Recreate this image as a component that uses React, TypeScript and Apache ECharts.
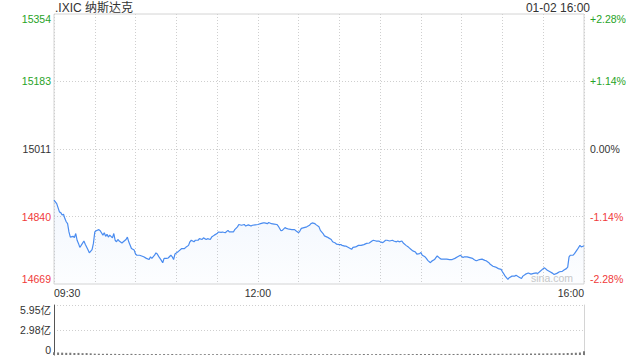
import React, { useEffect, useRef } from "react";
import * as echarts from "echarts";

// ---- data ----
const title = ".IXIC 纳斯达克";
const stamp = "01-02 16:00";
const watermark = "sina.com";
const prevClose = 15011;
const priceTicks = [14669, 14840, 15011, 15183, 15354];
const priceGridValues = [14840, 15011, 15183];
const pctTickLabels = ["-2.28%", "-1.14%", "0.00%", "+1.14%", "+2.28%"];
const timeTickMinutes = [0, 150, 390];
const timeTickLabels = ["09:30", "12:00", "16:00"];
const volumeTicks = [0, 2.98, 5.95];
const volumeTickLabels = ["0", "2.98亿", "5.95亿"];

// minutes after 09:30
const minutes = [
  0, 2, 4, 5, 6, 7, 8, 9, 10, 11, 12, 14, 15, 16, 17, 18, 19, 20, 22, 23, 24, 25, 26, 28, 29,
  30, 31, 33, 34, 36, 37, 38, 39, 40, 41, 43, 44, 45, 46, 47, 48, 50, 51, 53, 54, 55, 57, 59,
  60, 61, 63, 66, 68, 70, 71, 72, 74, 75, 76, 77, 79, 80, 81, 83, 84, 86, 87, 88, 89, 91, 92,
  94, 96, 97, 99, 100, 101, 103, 104, 106, 107, 109, 110, 112, 113, 115, 116, 118, 120, 121,
  123, 124, 126, 128, 129, 132, 133, 135, 136, 138, 140, 141, 143, 145, 146, 148, 150, 152,
  154, 155, 157, 158, 160, 162, 164, 165, 167, 168, 170, 171, 173, 175, 177, 178, 180, 181,
  182, 184, 186, 188, 189, 190, 192, 193, 195, 196, 198, 199, 201, 202, 204, 205, 207, 208,
  210, 211, 212, 214, 215, 217, 219, 220, 222, 224, 226, 228, 230, 232, 234, 235, 237, 239,
  240, 242, 244, 245, 247, 249, 250, 252, 253, 254, 256, 257, 259, 261, 263, 264, 266, 267,
  269, 270, 271, 273, 274, 275, 277, 278, 280, 281, 282, 284, 285, 287, 289, 291, 293, 295,
  297, 299, 301, 302, 304, 306, 308, 309, 310, 311, 313, 315, 317, 318, 320, 321, 323, 325,
  327, 329, 330, 332, 334, 335, 337, 339, 340, 342, 344, 345, 347, 349, 351, 353, 355, 356,
  358, 360, 361, 363, 365, 367, 368, 370, 372, 374, 375, 377, 378, 379, 380, 382, 383, 385,
  387, 388, 390,
];
const prices = [
  14882, 14873, 14852, 14850, 14844, 14846, 14835, 14827, 14822, 14801, 14788, 14790, 14787,
  14797, 14780, 14772, 14762, 14767, 14778, 14770, 14763, 14756, 14748, 14756, 14772, 14801,
  14804, 14807, 14804, 14793, 14799, 14790, 14795, 14788, 14793, 14786, 14797, 14780, 14776,
  14782, 14778, 14773, 14776, 14782, 14788, 14776, 14759, 14755, 14745, 14742, 14742, 14738,
  14734, 14731, 14738, 14734, 14742, 14748, 14745, 14739, 14729, 14723, 14734, 14734, 14735,
  14742, 14738, 14731, 14745, 14750, 14753, 14759, 14759, 14762, 14767, 14776, 14780, 14776,
  14780, 14780, 14784, 14782, 14786, 14782, 14784, 14782, 14788, 14793, 14797, 14801, 14800,
  14801, 14799, 14805, 14801, 14801, 14807, 14814, 14820, 14818, 14820, 14816, 14819, 14816,
  14818, 14819, 14820, 14822, 14824, 14824, 14822, 14825, 14822, 14821, 14820, 14816, 14804,
  14805, 14812, 14810, 14808, 14807, 14807, 14804, 14799, 14804, 14810, 14812, 14814, 14818,
  14822, 14824, 14822, 14819, 14814, 14805, 14797, 14791, 14788, 14786, 14782, 14776, 14773,
  14770, 14769, 14769, 14767, 14765, 14765, 14761, 14757, 14762, 14763, 14767, 14767, 14769,
  14772, 14773, 14778, 14780, 14778, 14778, 14776, 14774, 14780, 14780, 14778, 14780, 14778,
  14776, 14778, 14776, 14778, 14773, 14767, 14762, 14756, 14753, 14750, 14745, 14746, 14749,
  14742, 14738, 14734, 14729, 14723, 14727, 14731, 14736, 14740, 14734, 14732, 14732, 14732,
  14731, 14731, 14734, 14738, 14742, 14736, 14738, 14738, 14736, 14734, 14731, 14729, 14728,
  14731, 14732, 14729, 14728, 14723, 14719, 14714, 14712, 14708, 14706, 14700, 14689, 14681,
  14685, 14689, 14689, 14691, 14687, 14683, 14689, 14694, 14697, 14694, 14696, 14697, 14696,
  14702, 14708, 14710, 14704, 14700, 14696, 14693, 14696, 14700, 14701, 14704, 14708, 14712,
  14738, 14742, 14742, 14746, 14756, 14767, 14763, 14766,
];

// volume in 亿, one bar per 3 minutes
const volumeStepMinutes = 3;
const volumes = [
  0.34, 0.3, 0.28, 0.26, 0.27, 0.24, 0.25, 0.22, 0.23, 0.2,
  0.16, 0.15, 0.14, 0.15, 0.13, 0.14, 0.12, 0.13, 0.12, 0.14,
  0.12, 0.11, 0.12, 0.1, 0.11, 0.12, 0.1, 0.11, 0.1, 0.12,
  0.1, 0.11, 0.09, 0.1, 0.11, 0.1, 0.09, 0.1, 0.1, 0.09,
  0.1, 0.09, 0.1, 0.11, 0.09, 0.1, 0.09, 0.1, 0.09, 0.1,
  0.1, 0.11, 0.1, 0.09, 0.1, 0.11, 0.1, 0.09, 0.1, 0.1,
  0.09, 0.1, 0.1, 0.11, 0.1, 0.1, 0.09, 0.1, 0.11, 0.1,
  0.1, 0.11, 0.12, 0.1, 0.11, 0.1, 0.12, 0.11, 0.1, 0.11,
  0.11, 0.1, 0.12, 0.11, 0.12, 0.11, 0.1, 0.12, 0.11, 0.12,
  0.12, 0.11, 0.12, 0.13, 0.12, 0.11, 0.12, 0.13, 0.12, 0.13,
  0.13, 0.12, 0.14, 0.13, 0.12, 0.14, 0.13, 0.14, 0.15, 0.14,
  0.15, 0.14, 0.16, 0.15, 0.16, 0.17, 0.16, 0.18, 0.17, 0.19,
  0.18, 0.2, 0.19, 0.21, 0.22, 0.21, 0.24, 0.25, 0.27, 0.3, 0.45,
];

const FONT = '"Liberation Sans", Arial, "Noto Sans CJK SC", sans-serif';
const GREEN = "#27a327";
const RED = "#f03a3a";
const DARK = "#333333";
const GRID_LINE = "#cfcfcf";

function priceColor(v: any) {
  const n = Number(v);
  if (n > prevClose) return GREEN;
  if (n < prevClose) return RED;
  return DARK;
}

export default function App() {
  const ref = useRef<HTMLDivElement>(null);

  useEffect(() => {
    if (!ref.current) return;
    const chart = echarts.init(ref.current, null, { renderer: "svg" });

    const lineData = minutes.map((m, i) => [m, prices[i]]);
    const volData = volumes.map((v, i) => [i * volumeStepMinutes, v]);

    const option: any = {
      animation: false,
      textStyle: { fontFamily: FONT },
      grid: [
        { left: 54, right: 56, top: 14, height: 270, show: true, borderColor: "#d4d4d4", borderWidth: 1, outerBoundsMode: "none", containLabel: false },
        { left: 54, right: 56, top: 305, height: 50, show: false, outerBoundsMode: "none", containLabel: false },
      ],
      xAxis: [
        {
          type: "value",
          gridIndex: 0,
          min: 0,
          max: 390,
          interval: 30,
          axisLine: { show: false },
          axisTick: { show: false },
          splitLine: { show: true, lineStyle: { color: GRID_LINE, type: [1, 2], width: 1 } },
          axisLabel: {
            customValues: timeTickMinutes,
            formatter: (v: number) => timeTickLabels[timeTickMinutes.indexOf(Number(v))] ?? "",
            alignMinLabel: "left",
            alignMaxLabel: "right",
            color: DARK,
            fontSize: 10.5,
            fontFamily: FONT,
            margin: 4,
          },
        },
        {
          type: "value",
          gridIndex: 1,
          min: 0,
          max: 390,
          axisLine: { show: false },
          axisTick: { show: false },
          splitLine: { show: false },
          axisLabel: { show: false },
        },
      ],
      yAxis: [
        {
          type: "value",
          gridIndex: 0,
          position: "left",
          min: priceTicks[0],
          max: priceTicks[priceTicks.length - 1],
          axisLine: { show: false },
          axisTick: { show: false, customValues: priceGridValues },
          splitLine: { show: true, lineStyle: { color: GRID_LINE, type: [1, 2], width: 1 } },
          axisLabel: {
            customValues: priceTicks,
            formatter: (v: number) => String(v),
            color: (v: any) => priceColor(v),
            verticalAlignMinLabel: "bottom",
            verticalAlignMaxLabel: "top",
            fontSize: 10.5,
            fontFamily: FONT,
            margin: 3,
          },
        },
        {
          type: "value",
          gridIndex: 0,
          position: "right",
          min: priceTicks[0],
          max: priceTicks[priceTicks.length - 1],
          axisLine: { show: false },
          axisTick: { show: false, customValues: priceGridValues },
          splitLine: { show: false },
          axisLabel: {
            customValues: priceTicks,
            formatter: (v: number) => pctTickLabels[priceTicks.indexOf(Number(v))] ?? "",
            color: (v: any) => priceColor(v),
            verticalAlignMinLabel: "bottom",
            verticalAlignMaxLabel: "top",
            fontSize: 10.5,
            fontFamily: FONT,
            margin: 6,
          },
        },
        {
          type: "value",
          gridIndex: 1,
          position: "left",
          min: volumeTicks[0],
          max: volumeTicks[volumeTicks.length - 1],
          axisLine: { show: true, lineStyle: { color: "#555", width: 1 } },
          axisTick: { show: false, customValues: volumeTicks.slice(1) },
          splitLine: { show: true, lineStyle: { color: GRID_LINE, type: [1, 2], width: 1 } },
          axisLabel: {
            customValues: volumeTicks,
            formatter: (v: number) => volumeTickLabels[volumeTicks.indexOf(Number(v))] ?? "",
            color: DARK,
            verticalAlignMinLabel: "bottom",
            verticalAlignMaxLabel: "top",
            fontSize: 10.5,
            fontFamily: FONT,
            margin: 3,
          },
        },
        {
          type: "value",
          gridIndex: 1,
          position: "right",
          min: volumeTicks[0],
          max: volumeTicks[volumeTicks.length - 1],
          axisLine: { show: true, lineStyle: { color: "#d4d4d4", width: 1 } },
          axisTick: { show: false },
          splitLine: { show: false },
          axisLabel: { show: false },
        },
      ],
      series: [
        {
          type: "line",
          xAxisIndex: 0,
          yAxisIndex: 0,
          data: lineData,
          symbol: "none",
          smooth: false,
          lineStyle: { color: "#4a8cf0", width: 1.2 },
          areaStyle: {
            origin: "start",
            color: new echarts.graphic.LinearGradient(0, 0, 0, 1, [
              { offset: 0, color: "rgba(74,140,240,0.10)" },
              { offset: 1, color: "rgba(74,140,240,0.02)" },
            ]),
          },
          silent: true,
        },
        {
          type: "bar",
          xAxisIndex: 1,
          yAxisIndex: 2,
          data: volData,
          barWidth: 2,
          itemStyle: { color: "#7a7a7a" },
          silent: true,
        },
      ],
      graphic: [
        {
          type: "text",
          x: 55,
          y: 8,
          style: { text: title, fontSize: 12, fill: DARK, fontFamily: FONT, verticalAlign: "middle", align: "left" },
        },
        {
          type: "text",
          x: 590,
          y: 8,
          style: { text: stamp, fontSize: 12, fill: DARK, fontFamily: FONT, verticalAlign: "middle", align: "right" },
        },
        {
          type: "text",
          x: 573,
          y: 278,
          style: { text: watermark, fontSize: 10.5, fill: "#c8c8c8", fontFamily: FONT, verticalAlign: "middle", align: "right" },
        },
      ],
    };

    chart.setOption(option);
    return () => chart.dispose();
  }, []);

  return (
    <div
      ref={ref}
      style={{ position: "fixed", left: 0, top: 0, width: 640, height: 360, background: "#fff" }}
    />
  );
}
